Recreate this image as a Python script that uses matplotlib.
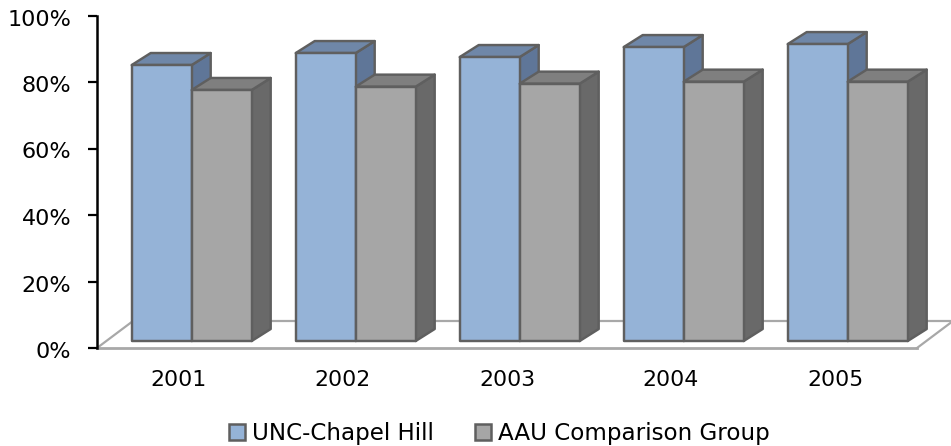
import matplotlib
matplotlib.use("Agg")
import matplotlib.pyplot as plt
from matplotlib.patches import Polygon, Patch
from matplotlib.transforms import ScaledTranslation

years = ["2001", "2002", "2003", "2004", "2005"]
unc = [83.0, 86.6, 85.4, 88.4, 89.3]
aau = [75.5, 76.5, 77.4, 78.0, 78.0]
y_ticks = [0, 20, 40, 60, 80, 100]

W, H = 951, 446
L, R, T, B = 97, 917, 15.5, 348
fig = plt.figure(figsize=(W / 100, H / 100), dpi=100)
ax = fig.add_axes([L / W, 1 - B / H, (R - L) / W, (B - T) / H])
ax.set_xlim(0, 5)
ax.set_ylim(0, 100)
px_x = 5 / (R - L)
px_y = 100 / (B - T)

font = "DejaVu Sans"
edge = "#5f5f5f"
floor = "#a8a8a8"

# floor of the 3D plot
fdx, fdy = 36 * px_x, 27 * px_y
ax.plot([fdx, 5 + fdx], [fdy, fdy], color=floor, lw=1.6, clip_on=False, zorder=1)
ax.plot([0, 5], [0, 0], color=floor, lw=2.0, clip_on=False, zorder=1)
ax.plot([0, fdx], [0, fdy], color=floor, lw=1.6, clip_on=False, zorder=1)
ax.plot([5, 5 + fdx], [0, fdy], color=floor, lw=1.6, clip_on=False, zorder=1)

# 3D bars
bar_w = 60 * px_x
shift = 12.7 * px_x
base = 7 * px_y
dx, dy = 19 * px_x, 12 * px_y


def bar3d(x0, value, front, top, side, z):
    x1 = x0 + bar_w
    y1 = base + value
    kw = dict(edgecolor=edge, linewidth=1.75, joinstyle="round", clip_on=False, zorder=z)
    ax.add_patch(Polygon([(x1, base), (x1 + dx, base + dy), (x1 + dx, y1 + dy), (x1, y1)],
                         facecolor=side, **kw))
    ax.add_patch(Polygon([(x0, y1), (x0 + dx, y1 + dy), (x1 + dx, y1 + dy), (x1, y1)],
                         facecolor=top, **kw))
    ax.add_patch(Polygon([(x0, base), (x1, base), (x1, y1), (x0, y1)],
                         facecolor=front, **kw))


for i, (a, b) in enumerate(zip(unc, aau)):
    centre = i + 0.5 + shift
    bar3d(centre - bar_w, a, "#95b3d7", "#6f87a8", "#5f7698", 3 + i)
    bar3d(centre, b, "#a6a6a6", "#7f7f7f", "#696969", 3 + i + 0.5)

# axes
for s in ("top", "right", "bottom"):
    ax.spines[s].set_visible(False)
ax.spines["left"].set_linewidth(1.8)
ax.spines["left"].set_color("black")
ax.set_yticks(y_ticks)
ax.set_yticklabels([f"{v}%" for v in y_ticks], fontsize=16, family=font, color="black")
ax.tick_params(axis="y", length=6.5, width=1.6, pad=12)
offset = ScaledTranslation(0, -2 / 100, fig.dpi_scale_trans)
for lab in ax.get_yticklabels():
    lab.set_transform(lab.get_transform() + offset)
ax.set_xticks([i + 0.5 for i in range(5)])
ax.set_xticklabels(years, fontsize=15.8, family=font, color="black")
ax.tick_params(axis="x", length=0, pad=15.5)

handles = [Patch(facecolor="#95b3d7", edgecolor=edge, linewidth=1.8, label="UNC-Chapel Hill"),
           Patch(facecolor="#a6a6a6", edgecolor=edge, linewidth=1.8, label="AAU Comparison Group")]
leg = fig.legend(handles=handles, loc="center", bbox_to_anchor=(499.5 / W, 1 - 433.5 / H), ncol=2,
                 frameon=False, prop={"family": font, "size": 16.6}, handlelength=0.7,
                 handleheight=0.7, handletextpad=0.3, columnspacing=1.8, labelcolor="black")

fig.savefig("out.png", dpi=100)
